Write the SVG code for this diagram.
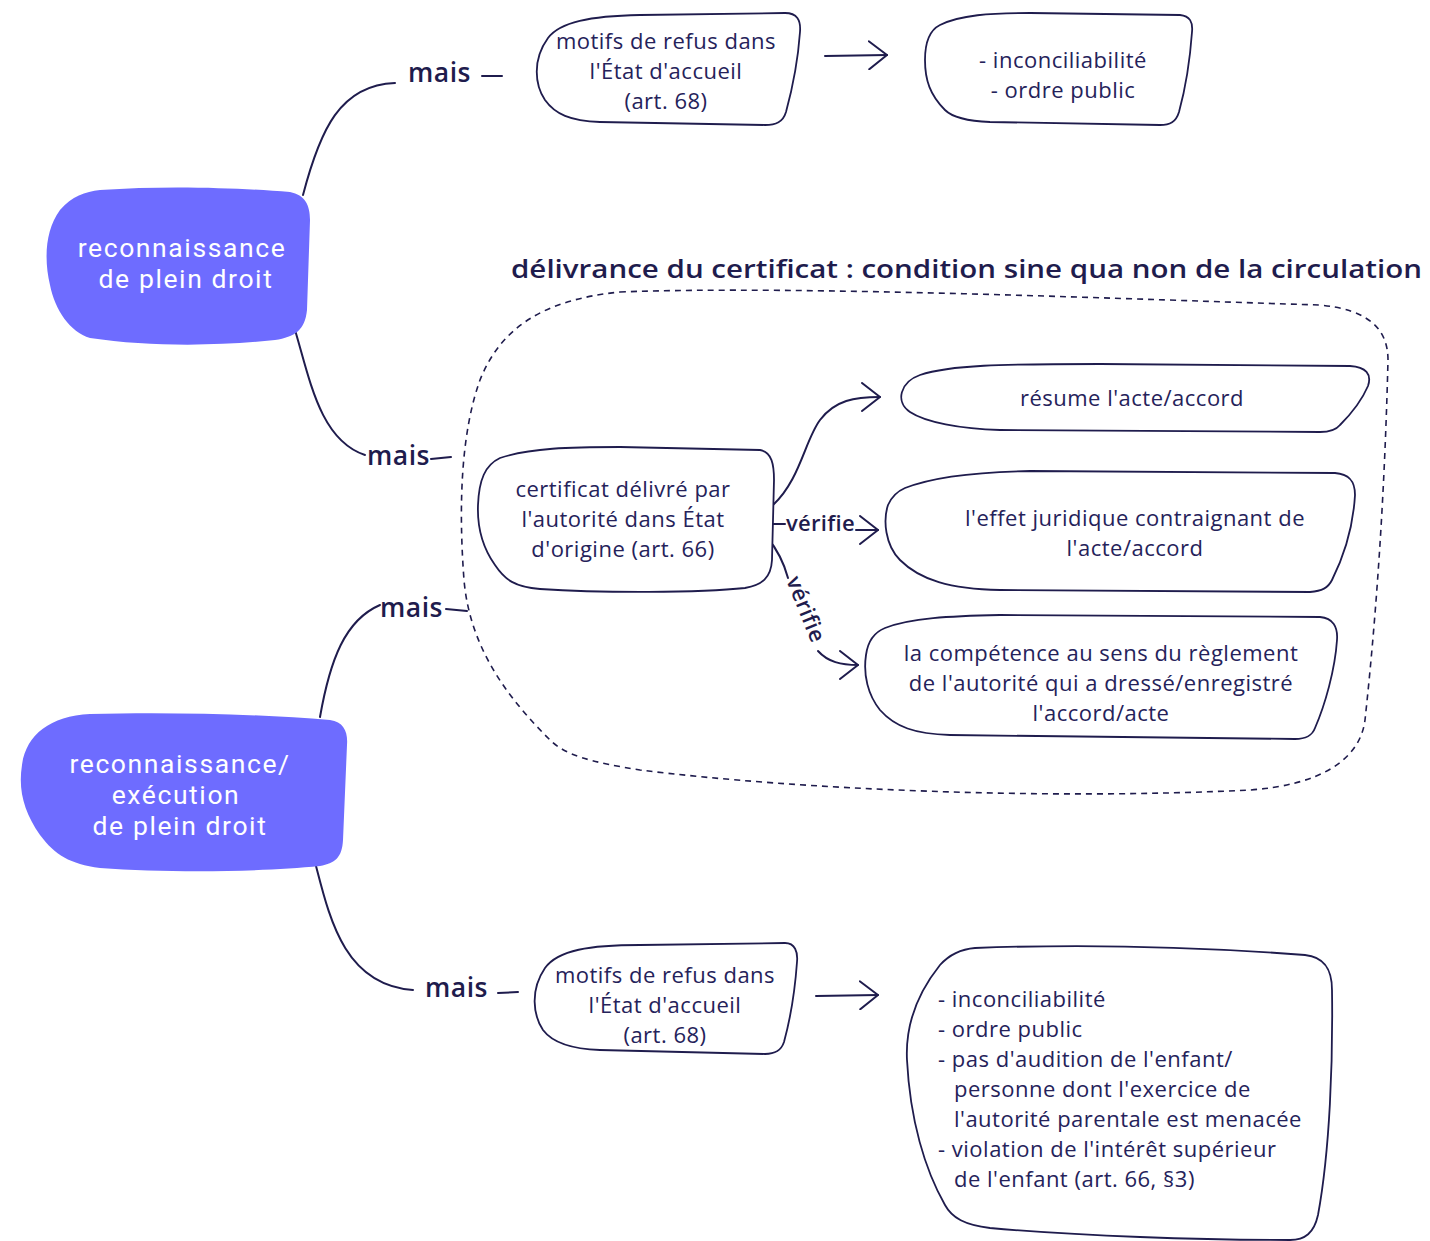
<svg xmlns="http://www.w3.org/2000/svg" width="1430" height="1241" viewBox="0 0 1430 1241">
  <style>
    .box { fill: #ffffff; stroke: #1f1c4d; stroke-width: 1.8; }
    .root { fill: #6e6cff; }
    .rootText { font-family: Roboto, "Open Sans", "Liberation Sans", sans-serif; font-size: 26.5px; letter-spacing: 1.6px; fill: #ffffff; text-anchor: middle; }
    .t { font-family: "Open Sans", "Liberation Sans", sans-serif; font-size: 22px; letter-spacing: 0.5px; fill: #25225a; text-anchor: middle; }
    .tl { font-family: "Open Sans", "Liberation Sans", sans-serif; font-size: 22px; letter-spacing: 0.5px; fill: #25225a; }
    .lbl { font-family: "Open Sans", "Liberation Sans", sans-serif; font-size: 26.5px; letter-spacing: 0.5px; font-weight: 600; fill: #1f1c4d; }
    .small { font-family: "Open Sans", "Liberation Sans", sans-serif; font-size: 22px; letter-spacing: 0.3px; font-weight: 600; fill: #1f1c4d; }
    .title { font-family: "Open Sans", "Liberation Sans", sans-serif; font-size: 26px; font-weight: 600; fill: #1f1c4d; }
    .edge { fill: none; stroke: #1f1c4d; stroke-width: 2; stroke-linecap: round; }
    .dash { fill: none; stroke: #1f1c4d; stroke-width: 1.6; stroke-dasharray: 6 5; }
  </style>
  <defs>
    <marker id="chev" viewBox="0 0 20 30" refX="19" refY="15" markerWidth="20" markerHeight="30" markerUnits="userSpaceOnUse" orient="auto">
      <path d="M1,1 L19,15 L1,29" fill="none" stroke="#1f1c4d" stroke-width="2" stroke-linecap="round" stroke-linejoin="round"/>
    </marker>
  </defs>
  <rect width="1430" height="1241" fill="#ffffff"/>

  <!-- dashed frame around the certificate group -->
  <g id="certificate-frame">
    <path class="dash" d="M620,292 C800,285 1150,300 1320,305 C1370,310 1388,330 1388,360 C1385,480 1378,600 1365,720 C1360,760 1320,785 1250,790 C1050,800 800,790 640,770 C590,762 565,755 550,740 C510,700 470,650 464,580 C458,500 462,430 480,380 C500,330 540,300 620,292 Z"/>
    <text class="title" x="511" y="278" textLength="911" lengthAdjust="spacingAndGlyphs">délivrance du certificat : condition sine qua non de la circulation</text>
  </g>

  <!-- connectors -->
  <g id="connectors">
    <path class="edge" d="M303,195 C320,130 340,85 395,83"/>
    <text class="lbl" x="408" y="82">mais</text>
    <path class="edge" d="M482,76 L502,76"/>
    <path class="edge" d="M825,56 L887,55" marker-end="url(#chev)"/>

    <path class="edge" d="M295,330 C310,380 320,440 365,455"/>
    <text class="lbl" x="367" y="465">mais</text>
    <path class="edge" d="M431,459 L451,457"/>

    <path class="edge" d="M320,717 C330,660 345,620 380,605"/>
    <text class="lbl" x="380" y="617">mais</text>
    <path class="edge" d="M446,609 L467,611"/>

    <path class="edge" d="M316,866 C330,920 345,985 413,990"/>
    <text class="lbl" x="425" y="997">mais</text>
    <path class="edge" d="M498,993 L518,992"/>
    <path class="edge" d="M816,996 L878,995" marker-end="url(#chev)"/>

    <path class="edge" d="M773,505 C800,480 805,440 820,420 C835,400 855,397 880,397" marker-end="url(#chev)"/>
    <path class="edge" d="M769,524 L785,524"/>
    <text class="small" x="786" y="531">vérifie</text>
    <path class="edge" d="M856,530 L878,530" marker-end="url(#chev)"/>
    <path class="edge" d="M767,537 C776,548 784,563 788,578"/>
    <text class="small" transform="translate(786,580) rotate(68)">vérifie</text>
    <path class="edge" d="M818,651 C828,662 841,665 858,665" marker-end="url(#chev)"/>
  </g>

  <!-- root: reconnaissance de plein droit -->
  <g id="root-recognition">
    <path class="root" d="M100,190 C170,185 240,188 290,192 C305,195 310,205 310,220 L307,310 C305,330 295,337 275,340 C220,346 150,347 90,338 C70,332 55,310 50,285 C44,260 45,230 60,210 C72,196 85,192 100,190 Z"/>
    <text class="rootText"><tspan x="182" y="257">reconnaissance</tspan><tspan x="186" y="288">de plein droit</tspan></text>
  </g>

  <!-- root: reconnaissance/exécution de plein droit -->
  <g id="root-enforcement">
    <path class="root" d="M90,714 C170,712 260,714 330,720 C344,722 348,732 347,745 L343,840 C342,858 335,863 320,866 C260,872 170,873 100,868 C70,864 55,855 40,835 C24,812 18,790 22,765 C26,735 50,716 90,714 Z"/>
    <text class="rootText"><tspan x="180" y="773">reconnaissance/</tspan><tspan x="176" y="804">exécution</tspan><tspan x="180" y="835">de plein droit</tspan></text>
  </g>

  <g id="refusal-grounds-top">
    <path class="box" d="M548,38 C560,22 590,16 640,15 L785,13 C797,13 801,20 800,32 C798,60 792,90 786,112 C783,122 776,125 765,125 L600,122 C570,121 555,114 545,100 C535,85 532,60 548,38 Z"/>
    <text class="t"><tspan x="666" y="49">motifs de refus dans</tspan><tspan x="666" y="79">l'État d'accueil</tspan><tspan x="666" y="109">(art. 68)</tspan></text>
  </g>

  <g id="refusal-list-top">
    <path class="box" d="M940,25 C960,15 990,13 1030,13 L1180,15 C1190,16 1193,22 1192,32 C1190,60 1185,90 1179,112 C1176,122 1170,125 1160,125 L990,122 C965,121 952,117 945,110 C930,95 925,80 925,60 C925,42 930,30 940,25 Z"/>
    <text class="t"><tspan x="1063" y="68">- inconciliabilité</tspan><tspan x="1063" y="98">- ordre public</tspan></text>
  </g>

  <g id="certificate">
    <path class="box" d="M500,458 C530,448 570,447 620,447 L760,450 C772,452 774,465 774,480 L772,560 C771,578 762,585 745,588 C700,593 600,593 540,589 C515,587 505,580 495,565 C483,548 477,530 478,505 C479,480 485,465 500,458 Z"/>
    <text class="t"><tspan x="623" y="497">certificat délivré par</tspan><tspan x="623" y="527">l'autorité dans État</tspan><tspan x="623" y="557">d'origine (art. 66)</tspan></text>
  </g>

  <g id="summary">
    <path class="box" d="M920,375 C950,365 1000,364 1100,364 L1350,366 C1366,367 1372,374 1368,386 C1362,400 1350,415 1340,425 C1336,430 1330,432 1320,432 L1000,430 C960,429 925,422 910,412 C895,402 900,382 920,375 Z"/>
    <text class="t" x="1132" y="406">résume l'acte/accord</text>
  </g>

  <g id="binding-effect">
    <path class="box" d="M905,488 C930,478 970,472 1030,471 L1335,473 C1350,474 1355,482 1355,495 C1353,530 1342,560 1332,580 C1328,588 1322,591 1310,592 L1000,590 C950,589 920,580 900,560 C885,545 883,520 888,505 C892,496 898,491 905,488 Z"/>
    <text class="t"><tspan x="1135" y="526">l'effet juridique contraignant de</tspan><tspan x="1135" y="556">l'acte/accord</tspan></text>
  </g>

  <g id="competence">
    <path class="box" d="M885,628 C910,618 950,616 1000,615 L1320,617 C1333,618 1338,627 1337,640 C1335,670 1325,705 1315,728 C1312,736 1306,739 1295,739 L950,735 C915,734 895,727 880,710 C868,695 863,675 866,655 C868,640 875,632 885,628 Z"/>
    <text class="t"><tspan x="1101" y="661">la compétence au sens du règlement</tspan><tspan x="1101" y="691">de l'autorité qui a dressé/enregistré</tspan><tspan x="1101" y="721">l'accord/acte</tspan></text>
  </g>

  <g id="refusal-grounds-bottom">
    <path class="box" d="M545,968 C558,950 590,945 640,945 L785,943 C795,943 798,952 797,962 C795,990 790,1020 784,1042 C781,1051 775,1054 765,1054 L600,1050 C570,1049 552,1042 543,1030 C533,1015 530,990 545,968 Z"/>
    <text class="t"><tspan x="665" y="983">motifs de refus dans</tspan><tspan x="665" y="1013">l'État d'accueil</tspan><tspan x="665" y="1043">(art. 68)</tspan></text>
  </g>

  <g id="refusal-list-bottom">
    <path class="box" d="M975,948 C1080,944 1200,947 1305,955 C1325,957 1332,970 1332,990 C1333,1060 1330,1150 1318,1215 C1314,1233 1305,1240 1290,1240 C1200,1240 1080,1236 990,1228 C965,1225 952,1218 945,1205 C925,1170 910,1120 907,1060 C905,1020 920,990 940,965 C950,954 962,949 975,948 Z"/>
    <text class="tl"><tspan x="938" y="1007">- inconciliabilité</tspan><tspan x="938" y="1037">- ordre public</tspan><tspan x="938" y="1067">- pas d'audition de l'enfant/</tspan><tspan x="954" y="1097">personne dont l'exercice de</tspan><tspan x="954" y="1127">l'autorité parentale est menacée</tspan><tspan x="938" y="1157">- violation de l'intérêt supérieur</tspan><tspan x="954" y="1187">de l'enfant (art. 66, §3)</tspan></text>
  </g>
</svg>
